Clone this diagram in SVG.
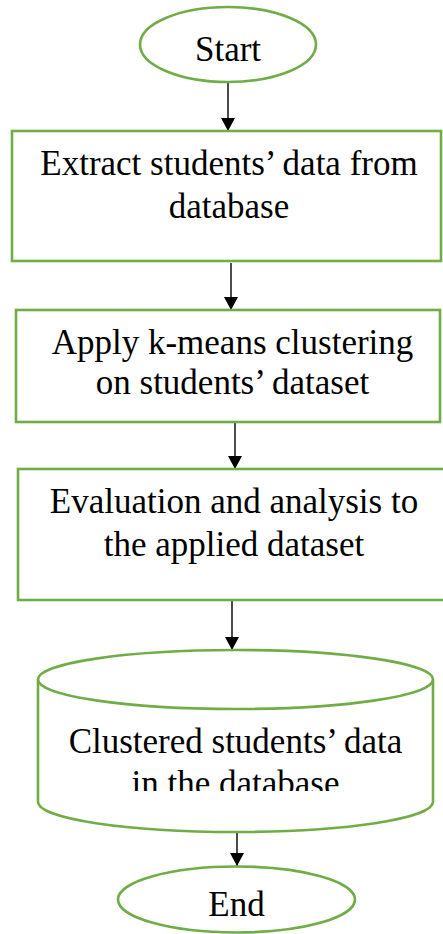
<svg xmlns="http://www.w3.org/2000/svg" width="443" height="934" viewBox="0 0 443 934">
  <style>
    .shape { fill: #ffffff; stroke: #70AD47; stroke-width: 2.6; }
    .label { font-family: "Liberation Serif", "Times New Roman", serif; font-size: 35px; fill: #000000; text-anchor: middle; }
    .link { stroke: #000000; stroke-width: 1.4; fill: none; marker-end: url(#head); }
  </style>
  <defs>
    <!-- filled triangular arrowhead, tip at the end of the line -->
    <marker id="head" viewBox="0 0 13 14" refX="13" refY="7" markerWidth="13" markerHeight="14" markerUnits="userSpaceOnUse" orient="auto">
      <path d="M0,0 L13,7 L0,14 Z" fill="#000000"/>
    </marker>
    <clipPath id="cylText">
      <rect x="40" y="700" width="390" height="91"/>
    </clipPath>
  </defs>
  <rect width="443" height="934" fill="#ffffff"/>

  <!-- connectors -->
  <g id="connectors">
    <line class="link" x1="228" y1="83" x2="228" y2="131"/>
    <line class="link" x1="231" y1="263" x2="231" y2="310"/>
    <line class="link" x1="235" y1="423" x2="235" y2="469"/>
    <line class="link" x1="232" y1="601" x2="232" y2="650"/>
    <line class="link" x1="237" y1="833" x2="237" y2="866"/>
  </g>

  <g id="start">
    <ellipse class="shape" cx="228" cy="44.5" rx="88" ry="37.5"/>
    <text class="label" x="228" y="61">Start</text>
  </g>

  <g id="extract">
    <rect class="shape" x="12" y="131" width="429" height="130"/>
    <text class="label" x="229" y="175">Extract students’ data from</text>
    <text class="label" x="229" y="218">database</text>
  </g>

  <g id="kmeans">
    <rect class="shape" x="16" y="310" width="424" height="112"/>
    <text class="label" x="232.5" y="354">Apply k-means clustering</text>
    <text class="label" x="232.5" y="394">on students’ dataset</text>
  </g>

  <g id="evaluate">
    <rect class="shape" x="18" y="469" width="427" height="131"/>
    <text class="label" x="234" y="513">Evaluation and analysis to</text>
    <text class="label" x="234" y="556">the applied dataset</text>
  </g>

  <g id="store">
    <path class="shape" d="M38,679.5 L38,802 A197.5,30 0 0 0 433,802 L433,679.5"/>
    <ellipse class="shape" cx="235.5" cy="679.5" rx="197.5" ry="29.5"/>
    <g clip-path="url(#cylText)">
      <text class="label" x="235.5" y="753">Clustered students’ data</text>
      <text class="label" x="235.5" y="795">in the database</text>
    </g>
  </g>

  <g id="end">
    <ellipse class="shape" cx="236.5" cy="899.5" rx="118.5" ry="33"/>
    <text class="label" x="236.5" y="916">End</text>
  </g>
</svg>
